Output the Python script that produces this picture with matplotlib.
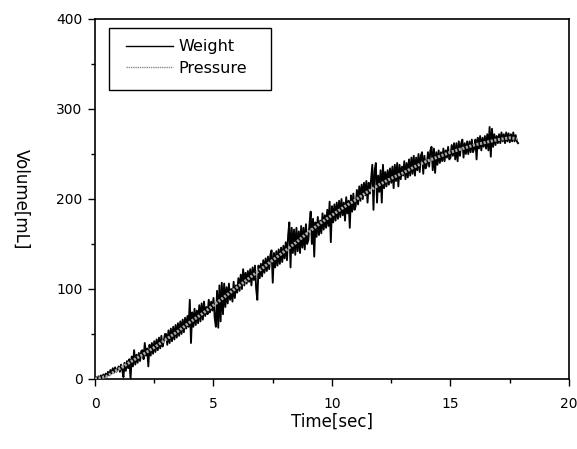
import numpy as np
import matplotlib
matplotlib.use("Agg")
import matplotlib.pyplot as plt
from matplotlib.ticker import MultipleLocator
from matplotlib.patches import Rectangle
from matplotlib.lines import Line2D

# ---- data ----
dt_weight = 0.05
weight = [
    # 0.00 - 0.95 s
    0, 2, 0, 3, 1, 4, 1, 5, 2, 6, 3, 8, 4, 10, 6, 12, 7, 13, 8, 11,
    # 1.00 - 1.95 s
    14, 8, 16, 10, 2, 18, 9, 20, 12, 22, 0, 25, 14, 32, 16, 27, 18, 29, 20, 31,
    # 2.00 - 2.95 s
    32, 22, 40, 26, 34, 14, 38, 26, 40, 28, 42, 30, 44, 32, 46, 34, 48, 36, 42, 50,
    # 3.00 - 3.95 s
    50, 38, 54, 40, 56, 42, 58, 44, 60, 46, 62, 48, 64, 50, 66, 52, 68, 56, 70, 58,
    # 4.00 - 4.95 s
    88, 40, 74, 58, 78, 60, 76, 62, 82, 64, 84, 66, 86, 70, 80, 72, 88, 74, 86, 76,
    # 5.00 - 5.95 s
    90, 68, 58, 98, 57, 104, 64, 107, 72, 106, 80, 102, 84, 106, 88, 100, 86, 108, 90, 104,
    # 6.00 - 6.95 s
    96, 112, 98, 116, 100, 122, 104, 118, 106, 120, 108, 122, 104, 124, 110, 126, 100, 88, 126, 112,
    # 7.00 - 7.95 s
    128, 114, 132, 118, 134, 120, 136, 122, 138, 143, 107, 140, 124, 142, 126, 144, 128, 146, 130, 148,
    # 8.00 - 8.95 s
    134, 152, 132, 160, 174, 124, 168, 140, 166, 138, 168, 142, 164, 140, 170, 146, 168, 144, 172, 150,
    # 9.00 - 9.95 s
    154, 172, 186, 150, 178, 136, 174, 158, 180, 160, 176, 162, 184, 166, 182, 168, 188, 170, 197, 152,
    # 10.00 - 10.95 s
    192, 174, 194, 176, 196, 178, 198, 180, 200, 182, 196, 176, 202, 184, 198, 168, 204, 186, 206, 188,
    # 11.00 - 11.95 s
    192, 210, 194, 214, 198, 216, 200, 218, 204, 220, 196, 218, 206, 222, 238, 188, 232, 240, 196, 226,
    # 12.00 - 12.95 s
    208, 232, 196, 238, 212, 230, 214, 232, 216, 234, 218, 236, 212, 238, 220, 240, 214, 238, 222, 236,
    # 13.00 - 13.95 s
    226, 242, 222, 240, 224, 244, 226, 246, 228, 248, 226, 246, 232, 250, 230, 248, 252, 228, 248, 234,
    # 14.00 - 14.95 s
    238, 252, 236, 254, 258, 232, 256, 229, 252, 238, 254, 240, 252, 242, 256, 242, 254, 246, 258, 244,
    # 15.00 - 15.95 s
    246, 260, 248, 262, 244, 262, 242, 264, 248, 262, 266, 246, 262, 250, 264, 250, 264, 252, 266, 252,
    # 16.00 - 16.95 s
    256, 266, 244, 268, 256, 270, 254, 268, 258, 270, 256, 272, 254, 280, 247, 278, 258, 272, 260, 270,
    # 17.00 - 17.85 s
    262, 272, 262, 274, 264, 272, 262, 274, 264, 273, 263, 272, 264, 274, 264, 271, 264, 262,
]
weight_time = np.arange(len(weight)) * dt_weight

pressure_time = [0, 0.5, 1, 1.5, 2, 2.5, 3, 3.5, 4, 4.5, 5, 5.5, 6, 6.5, 7, 7.5, 8, 8.5,
                 9, 9.5, 10, 10.5, 11, 11.5, 12, 12.5, 13, 13.5, 14, 14.5, 15, 15.5,
                 16, 16.5, 17, 17.5, 17.8]
pressure = [0, 3, 11, 19, 27, 35, 44, 53, 63, 72, 82, 92, 102, 112, 122, 132, 142, 152,
            163, 173, 182, 191, 199, 208, 216, 223, 229, 236, 242, 247, 252, 256,
            260, 263, 266, 268, 267]

x_ticks = [0, 5, 10, 15, 20]
y_ticks = [0, 100, 200, 300, 400]
series_labels = ["Weight", "Pressure"]

# ---- figure ----
fig = plt.figure(figsize=(5.77, 4.49), dpi=100)
ax = fig.add_axes([95 / 577, 1 - 379 / 449, 474 / 577, 360 / 449])

ax.plot(weight_time, weight, color="black", lw=1.35, zorder=2)
ax.plot(pressure_time, pressure, color="#a8a8a8", lw=2.2, linestyle=(0, (0.7, 0.5)),
        zorder=3)

ax.set_xlim(0, 20)
ax.set_ylim(0, 400)
ax.set_xticks(x_ticks)
ax.set_yticks(y_ticks)
ax.xaxis.set_minor_locator(MultipleLocator(2.5))
ax.yaxis.set_minor_locator(MultipleLocator(50))
ax.tick_params(which="major", direction="out", length=5, width=1, labelsize=10)
ax.tick_params(axis="x", which="major", pad=8)
ax.tick_params(axis="y", which="major", pad=4)
ax.tick_params(which="minor", direction="out", length=3, width=1)
for s in ax.spines.values():
    s.set_linewidth(1.2)

ax.set_xlabel("Time[sec]", fontsize=12, labelpad=1.5)
ax.set_ylabel("Volume[mL]", fontsize=12, rotation=270, va="center")
ax.yaxis.set_label_coords(-0.155, 0.5)

# legend (frame drawn separately to match the wide box of the reference)
frame = Rectangle((14 / 474, (379 - 90) / 360), 162 / 474, 62 / 360,
                  transform=ax.transAxes, facecolor="white", edgecolor="black",
                  lw=1.0, zorder=4)
ax.add_patch(frame)
handles = [Line2D([], [], color="black", lw=1.0),
           Line2D([], [], color="#8a8a8a", lw=1.0, linestyle=(0, (1, 0.6)))]
leg = ax.legend(handles, series_labels, loc="upper left",
                bbox_to_anchor=(20 / 474, (379 - 28) / 360), fontsize=11.5,
                frameon=False, handlelength=2.95, handletextpad=0.3,
                borderpad=0.7, labelspacing=0.42, borderaxespad=0)
leg.set_zorder(5)

fig.savefig("out.png", dpi=100)
